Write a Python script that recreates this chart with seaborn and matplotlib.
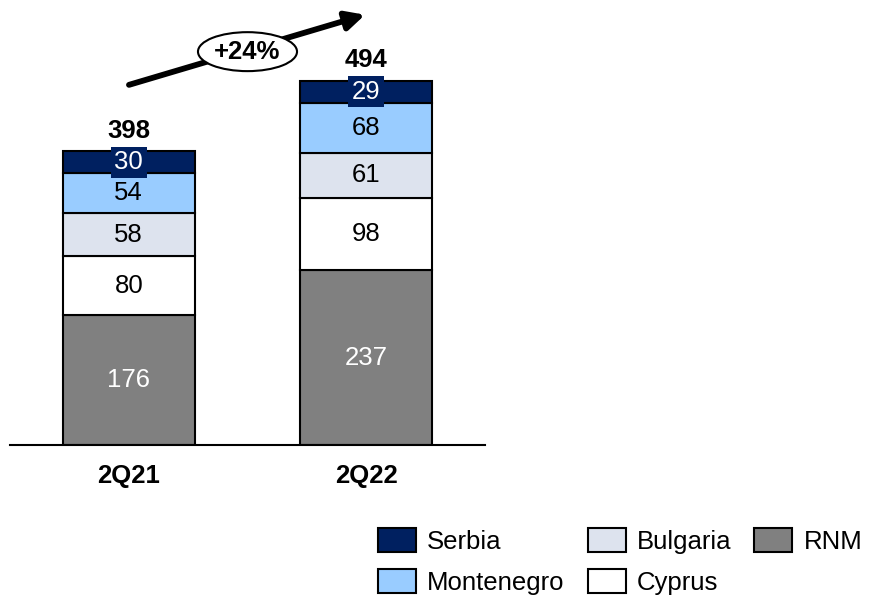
import numpy as np
import matplotlib
matplotlib.use("Agg")
import matplotlib.pyplot as plt
from matplotlib.patches import Ellipse, Patch
import seaborn as sns

# data
quarters = ["2Q21", "2Q22"]
countries = ["RNM", "Cyprus", "Bulgaria", "Montenegro", "Serbia"]
rnm = [176, 237]
cyprus = [80, 98]
bulgaria = [58, 61]
montenegro = [54, 68]
serbia = [30, 29]
totals = [398, 494]
growth_label = "+24%"

colors = {
    "RNM": "#808080",
    "Cyprus": "#FFFFFF",
    "Bulgaria": "#DDE3EE",
    "Montenegro": "#99CCFF",
    "Serbia": "#002060",
}
text_colors = {"RNM": "white", "Cyprus": "black", "Bulgaria": "black",
               "Montenegro": "black", "Serbia": "white"}

sns.set_style("white")
plt.rcParams["font.family"] = ["Liberation Sans", "DejaVu Sans"]
plt.rcParams["text.color"] = "black"
plt.rcParams["xtick.color"] = "black"
plt.rcParams["axes.labelcolor"] = "black"
FS = 18.5

fig = plt.figure(figsize=(8.7, 5.96), dpi=100)
ax = fig.add_axes([10 / 870, 1 - 445 / 596, 475 / 870, 600 * 0.738 / 596])

series = [rnm, cyprus, bulgaria, montenegro, serbia]
bottom = np.zeros(len(quarters))
for name, vals in zip(countries, series):
    vals = np.array(vals, dtype=float)
    sns.barplot(x=quarters, y=vals, bottom=bottom, color=colors[name],
                width=0.557, edgecolor="black", linewidth=1.5, ax=ax,
                saturation=1)
    for i, v in enumerate(vals):
        kw = {}
        if name == "Serbia":
            kw["bbox"] = dict(boxstyle="square,pad=0.14", fc=colors[name], ec="none")
        ax.text(i, bottom[i] + v / 2, f"{int(v)}", ha="center", va="center",
                fontsize=FS, color=text_colors[name], **kw)
    bottom += vals

for i, t in enumerate(totals):
    ax.annotate(f"{t}", (i, t), xytext=(0, 6), textcoords="offset points",
                ha="center", va="bottom", fontsize=FS, fontweight="bold")

# growth arrow with ellipse
ax.annotate("", xy=(0.995, 583), xytext=(0.001, 488),
            arrowprops=dict(arrowstyle="-|>", lw=4.2, color="black",
                            mutation_scale=28, shrinkA=0, shrinkB=0),
            annotation_clip=False)
ax.add_patch(Ellipse((0.5, 533), 0.417, 52.8, fc="white", ec="black", lw=1.5,
                     zorder=5, clip_on=False))
ax.text(0.5, 533, growth_label, ha="center", va="center", fontsize=FS,
        fontweight="bold", zorder=6)

ax.set_xlim(-0.5, 1.5)
ax.set_ylim(0, 600)
ax.set_yticks([])
ax.set_xlabel("")
ax.set_ylabel("")
ax.tick_params(axis="x", length=0, pad=14, labelsize=FS, labelcolor="black")
for lbl in ax.get_xticklabels():
    lbl.set_fontweight("bold")
for s in ["top", "left", "right"]:
    ax.spines[s].set_visible(False)
ax.spines["bottom"].set_color("black")
ax.spines["bottom"].set_linewidth(1.5)

legend_order = ["Serbia", "Montenegro", "Bulgaria", "Cyprus", "RNM"]
handles = [Patch(facecolor=colors[c], edgecolor="black", linewidth=1.5, label=c)
           for c in legend_order]
fig.legend(handles=handles, loc="upper left", bbox_to_anchor=(378 / 870, 1 - 528 / 596),
           ncol=3, frameon=False, fontsize=FS, handlelength=1.48, handleheight=1.05,
           handletextpad=0.43, columnspacing=0.9, labelspacing=0.6,
           borderpad=0, borderaxespad=0, labelcolor="black")

fig.savefig("out.png", dpi=100)
